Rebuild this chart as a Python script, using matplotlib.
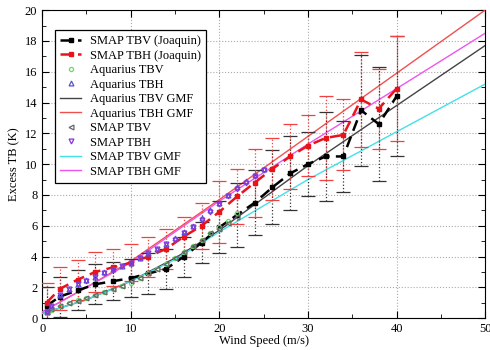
import matplotlib
matplotlib.use('Agg')
import matplotlib.pyplot as plt
import numpy as np

plt.rcParams['font.family'] = ['Liberation Serif', 'DejaVu Serif']
plt.rcParams['font.size'] = 9

# SMAP Joaquin binned data
ws_bins = [0.5, 2, 4, 6, 8, 10, 12, 14, 16, 18, 20, 22, 24, 26, 28, 30, 32, 34, 36, 38, 40]
tbv_joaquin = [0.8, 1.4, 1.8, 2.2, 2.4, 2.6, 2.9, 3.2, 4.0, 4.9, 5.9, 6.7, 7.5, 8.5, 9.4, 10.0, 10.5, 10.5, 13.5, 12.6, 14.4]
tbv_joaquin_err = [1.2, 1.3, 1.3, 1.3, 1.25, 1.25, 1.3, 1.3, 1.3, 1.35, 1.7, 2.1, 2.1, 2.4, 2.4, 2.1, 2.9, 2.3, 3.6, 3.7, 3.9]
tbh_joaquin = [1.0, 1.9, 2.5, 3.0, 3.3, 3.6, 4.0, 4.5, 5.3, 6.0, 6.9, 7.9, 8.8, 9.7, 10.5, 11.2, 11.7, 11.9, 14.2, 13.6, 14.9]
tbh_joaquin_err = [1.3, 1.4, 1.3, 1.3, 1.2, 1.2, 1.3, 1.3, 1.3, 1.5, 2.0, 1.8, 2.2, 2.0, 2.1, 2.0, 2.7, 2.3, 3.1, 2.6, 3.4]

# Aquarius / SMAP binned excess TB
ws_v = [0.5, 1, 2, 3, 4, 5, 6, 7, 8, 9, 10, 11, 12, 13, 14, 15, 16, 17, 18, 19, 20, 21, 22]
aq_tbv = [0.4, 0.5, 0.8, 1.0, 1.2, 1.3, 1.5, 1.7, 1.9, 2.1, 2.3, 2.6, 2.9, 3.2, 3.5, 3.9, 4.3, 4.7, 5.1, 5.5, 5.9, 6.3, 6.8]
smap_tbv = [0.4, 0.6, 0.8, 1.0, 1.1, 1.3, 1.5, 1.7, 1.9, 2.1, 2.4, 2.6, 2.9, 3.2, 3.5, 3.9, 4.3, 4.7, 5.1, 5.5, 5.8, 6.2, 6.6]
ws_h = [0.5, 1, 2, 3, 4, 5, 6, 7, 8, 9, 10, 11, 12, 13, 14, 15, 16, 17, 18, 19, 20, 21, 22, 23, 24, 25]
aq_tbh = [0.4, 0.8, 1.5, 1.9, 2.2, 2.5, 2.7, 3.0, 3.2, 3.4, 3.6, 3.9, 4.2, 4.5, 4.8, 5.2, 5.6, 6.0, 6.5, 7.0, 7.5, 8.0, 8.5, 8.9, 9.3, 9.7]
smap_tbh = [0.4, 0.8, 1.5, 1.9, 2.2, 2.4, 2.7, 2.9, 3.1, 3.4, 3.6, 3.9, 4.2, 4.5, 4.8, 5.1, 5.5, 5.9, 6.4, 6.9, 7.4, 7.9, 8.4, 8.8, 9.2, 9.6]

# GMF curves
ws_gmf = [0, 5, 10, 15, 20, 30, 40, 50]
aq_tbv_gmf = [0.3, 1.2, 2.4, 3.9, 5.7, 9.9, 13.8, 17.7]
aq_tbh_gmf = [0.4, 2.0, 3.7, 5.7, 7.7, 11.8, 15.9, 20.0]
smap_tbv_gmf = [0.3, 1.2, 2.4, 3.8, 5.6, 9.0, 12.1, 15.2]
smap_tbh_gmf = [0.4, 2.0, 3.6, 5.6, 7.6, 11.3, 14.9, 18.5]

fig = plt.figure(figsize=(4.9, 3.5), dpi=100)
ax = fig.add_axes([0.086, 0.091, 0.904, 0.88])

ax.grid(True, which='major', linestyle=':', color='#aaaaaa', linewidth=0.8)
ax.set_axisbelow(True)

eb = ax.errorbar(ws_bins, tbv_joaquin, yerr=tbv_joaquin_err, color='black', ls='--', lw=1.8,
                 marker='s', ms=2.5, ecolor='#333333', elinewidth=0.9, capsize=5, capthick=0.9,
                 dashes=(4.5, 2.5), zorder=4)
eb[2][0].set_linestyle(':')
eb2 = ax.errorbar(ws_bins, tbh_joaquin, yerr=tbh_joaquin_err, color='#e8141a', ls='--', lw=1.8,
                  marker='s', ms=3.5, ecolor='#f04040', elinewidth=0.9, capsize=5, capthick=0.9,
                  dashes=(4.5, 2.5), zorder=4)
eb2[2][0].set_linestyle(':')

h3, = ax.plot(ws_v, aq_tbv, ls='none', marker='o', ms=3, mfc='none', mec='#66dd66', mew=0.9, zorder=5)
h4, = ax.plot(ws_h, aq_tbh, ls='none', marker='^', ms=3.5, mfc='none', mec='#5555cc', mew=0.9, zorder=5)
h5, = ax.plot(ws_gmf, aq_tbv_gmf, color='#444444', lw=1.0, zorder=3)
h6, = ax.plot(ws_gmf, aq_tbh_gmf, color='#f05050', lw=1.0, zorder=3)
h7, = ax.plot(ws_v, smap_tbv, ls='none', marker='<', ms=3.5, mfc='none', mec='#666666', mew=0.9, zorder=5)
h8, = ax.plot(ws_h, smap_tbh, ls='none', marker='v', ms=3.5, mfc='none', mec='#8833dd', mew=0.9, zorder=5)
h9, = ax.plot(ws_gmf, smap_tbv_gmf, color='#44e0e8', lw=1.0, zorder=3)
h10, = ax.plot(ws_gmf, smap_tbh_gmf, color='#ee55ee', lw=1.0, zorder=3)

ax.set_xlim(0, 50)
ax.set_ylim(0, 20)
ax.set_xticks([0, 10, 20, 30, 40, 50])
ax.set_yticks(np.arange(0, 21, 2))
ax.set_xticks([5, 15, 25, 35, 45], minor=True)
ax.set_yticks(np.arange(1, 20, 2), minor=True)
ax.tick_params(which='both', direction='in', top=True, right=True, labelsize=9)
ax.tick_params(which='major', length=5)
ax.tick_params(which='minor', length=3)
ax.set_xlabel('Wind Speed (m/s)', labelpad=0)
ax.set_ylabel('Excess TB (K)', labelpad=3)

handles = [eb[0], eb2[0], h3, h4, h5, h6, h7, h8, h9, h10]
labels = ['SMAP TBV (Joaquin)', 'SMAP TBH (Joaquin)', 'Aquarius TBV', 'Aquarius TBH',
          'Aquarius TBV GMF', 'Aquarius TBH GMF', 'SMAP TBV', 'SMAP TBH',
          'SMAP TBV GMF', 'SMAP TBH GMF']
leg = ax.legend(handles, labels, loc='upper left', bbox_to_anchor=(0.029, 0.935), borderaxespad=0,
                fontsize=9, frameon=True, fancybox=False, edgecolor='black', framealpha=1,
                labelspacing=0.2, handlelength=1.7, borderpad=0.4, handletextpad=0.7,
                numpoints=1)
leg.get_frame().set_linewidth(0.9)

plt.savefig('out.png', dpi=100)
plt.close()
